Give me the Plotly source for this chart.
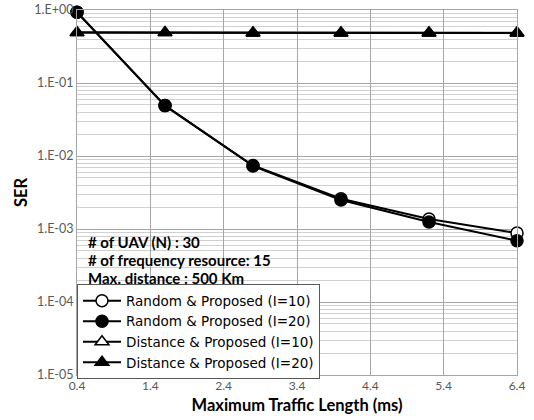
import plotly.graph_objects as go

x_vals = [0.4, 1.6, 2.8, 4.0, 5.2, 6.4]
random_i10 = [0.93, 0.049, 0.0074, 0.0026, 0.00137, 0.00088]
random_i20 = [0.93, 0.049, 0.0073, 0.0025, 0.00125, 0.00069]
distance_i10 = [0.49, 0.49, 0.485, 0.485, 0.485, 0.485]
distance_i20 = [0.49, 0.49, 0.485, 0.485, 0.485, 0.485]

y_tickvals = [1, 1e-1, 1e-2, 1e-3, 1e-4, 1e-5]
y_ticktext = ["1.E+00", "1.E-01", "1.E-02", "1.E-03", "1.E-04", "1.E-05"]
x_tickvals = [0.4, 1.4, 2.4, 3.4, 4.4, 5.4, 6.4]
x_ticktext = ["0.4", "1.4", "2.4", "3.4", "4.4", "5.4", "6.4"]
minor_vals = [m * 10.0 ** e for e in range(-5, 0) for m in range(2, 10)]

FONT = "Lato"

fig = go.Figure()
series = [
    ("Random & Proposed (I=10)", random_i10, "circle", "white"),
    ("Random & Proposed (I=20)", random_i20, "circle", "black"),
    ("Distance & Proposed (I=10)", distance_i10, "triangle-up", "white"),
    ("Distance & Proposed (I=20)", distance_i20, "triangle-up", "black"),
]
for name, ys, sym, fill in series:
    fig.add_trace(go.Scatter(
        x=x_vals, y=ys, name=name, mode="lines+markers",
        line=dict(color="black", width=2),
        marker=dict(symbol=sym, size=12, color=fill,
                    line=dict(color="black", width=1.5)),
        cliponaxis=False,
    ))

fig.update_layout(
    width=534, height=420,
    margin=dict(l=77, r=17, t=10, b=45),
    paper_bgcolor="white", plot_bgcolor="white",
    font=dict(family=FONT, color="black"),
    showlegend=True,
    legend=dict(
        x=0, y=-0.012, xanchor="left", yanchor="bottom",
        bgcolor="white", bordercolor="#595959", borderwidth=1,
        font=dict(size=13.5, family="DejaVu Sans", color="black"),
        itemwidth=38, tracegroupgap=0,
    ),
    xaxis=dict(
        range=[0.4, 6.4], tickvals=x_tickvals, ticktext=x_ticktext,
        showgrid=True, gridcolor="#a6a6a6", gridwidth=1,
        showline=True, linecolor="#a6a6a6", mirror=True,
        zeroline=False, ticks="", automargin=False,
        tickfont=dict(size=12, color="#595959", family=FONT),
        title=dict(text="<b>Maximum Traffic Length (ms)</b>",
                   font=dict(size=16.5, family=FONT), standoff=7),
    ),
    yaxis=dict(
        type="log", range=[-5, 0], tickvals=y_tickvals, ticktext=y_ticktext,
        showgrid=True, gridcolor="#a6a6a6", gridwidth=1,
        showline=True, linecolor="#a6a6a6", mirror=True,
        zeroline=False, ticks="", automargin=False,
        tickfont=dict(size=12.5, color="#595959", family=FONT),
        minor=dict(tickmode="array", tickvals=minor_vals, showgrid=True,
                   gridcolor="#d0d0d0", gridwidth=1, ticks=""),
        title=dict(text="<b>SER</b>", font=dict(size=16.5, family=FONT), standoff=2),
    ),
)

notes = ["# of UAV (N) : 30", "# of frequency resource: 15", "Max. distance : 500 Km"]
note_y = [0.364, 0.315, 0.266]
for t, yy in zip(notes, note_y):
    fig.add_annotation(
        text="<b>" + t + "</b>", xref="paper", yref="paper",
        x=0.02, y=yy, xanchor="left", yanchor="middle", showarrow=False,
        font=dict(size=15, family=FONT, color="black"),
    )

fig.write_html("out.html", post_script="document.body.style.margin='0';",
               config={"displayModeBar": False})
